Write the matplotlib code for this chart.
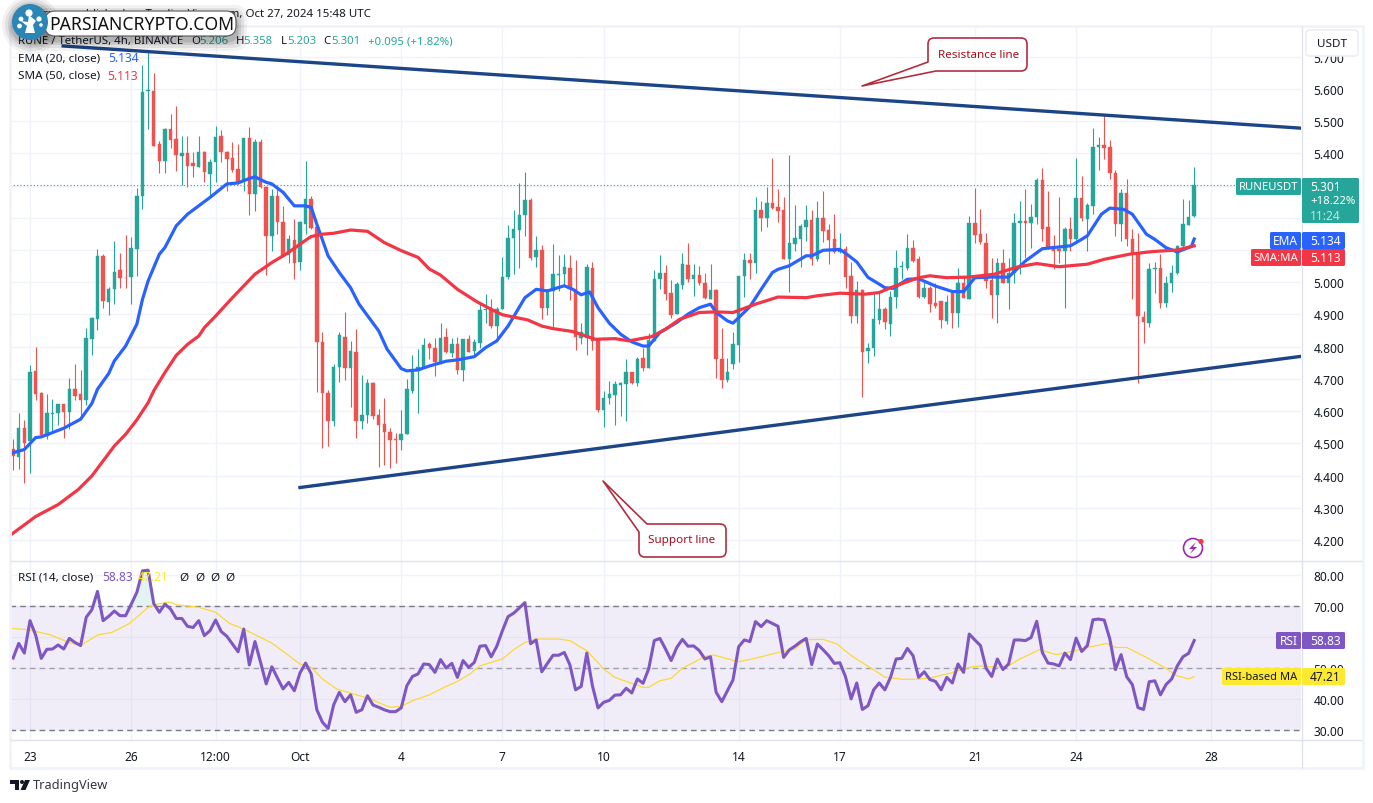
import numpy as np
import matplotlib
matplotlib.use("Agg")
import matplotlib.pyplot as plt
from matplotlib.patches import Circle, Polygon, PathPatch, FancyBboxPatch
from matplotlib.path import Path

plt.rcParams['font.family'] = ['Noto Sans', 'DejaVu Sans']

# candles 4h, first candle is index -3 (index 0 = 23 Sep 00:00)
first_idx = -3
opens = [
    4.481,4.458,4.549,4.507,4.724,4.655,4.523,4.591,4.593,4.621,
    4.597,4.670,4.652,4.635,4.825,4.887,5.080,4.939,4.978,5.037,
    5.014,5.017,5.103,5.266,5.593,5.593,5.429,5.375,5.475,5.444,
    5.393,5.401,5.370,5.356,5.405,5.336,5.372,5.453,5.405,5.385,
    5.351,5.315,5.447,5.274,5.434,5.294,5.144,5.266,5.186,5.084,
    5.132,5.063,5.180,5.258,5.170,4.816,4.657,4.569,4.738,4.831,
    4.733,4.785,4.569,4.588,4.688,4.587,4.559,4.535,4.512,4.509,
    4.528,4.661,4.725,4.738,4.807,4.797,4.753,4.830,4.780,4.807,
    4.728,4.825,4.787,4.811,4.913,4.918,4.864,4.916,5.015,5.136,
    5.163,5.209,5.255,5.079,5.099,4.919,4.973,5.022,5.025,5.043,
    4.980,4.826,4.828,5.043,4.823,4.603,4.640,4.649,4.681,4.683,
    4.720,4.686,4.766,4.733,4.818,5.009,5.028,4.968,4.901,4.991,
    5.053,5.011,5.022,4.999,4.947,4.975,4.763,4.697,4.745,4.805,
    5.018,5.068,5.059,5.224,5.199,5.247,5.232,5.224,5.071,5.118,
    5.134,5.170,5.192,5.071,5.198,5.161,5.134,5.095,5.102,5.018,
    4.895,4.975,4.787,4.795,4.883,4.918,4.869,4.954,5.048,5.043,
    5.107,5.071,4.954,4.983,4.935,4.942,4.880,4.966,4.906,4.999,
    4.949,5.185,5.149,5.123,5.007,4.959,5.061,4.997,5.028,5.185,
    5.191,5.183,5.203,5.318,5.170,5.111,5.104,5.097,5.166,5.133,
    5.261,5.195,5.237,5.420,5.425,5.420,5.340,5.180,5.276,5.135,
    5.092,4.893,4.875,5.040,5.045,4.935,4.999,5.028,5.111,5.178,5.206]
closes = [
    4.461,4.547,4.500,4.720,4.652,4.525,4.593,4.593,4.621,4.598,
    4.668,4.647,4.635,4.826,4.888,5.080,4.942,4.980,5.033,5.012,
    5.012,5.105,5.268,5.589,5.596,5.424,5.376,5.475,5.442,5.396,
    5.400,5.361,5.361,5.403,5.341,5.372,5.450,5.403,5.382,5.349,
    5.312,5.447,5.274,5.434,5.294,5.144,5.266,5.188,5.082,5.134,
    5.061,5.186,5.258,5.167,4.815,4.657,4.569,4.738,4.835,4.733,
    4.787,4.569,4.589,4.688,4.585,4.557,4.535,4.509,4.509,4.528,
    4.668,4.725,4.738,4.804,4.795,4.753,4.828,4.782,4.807,4.728,
    4.825,4.784,4.813,4.913,4.916,4.864,4.918,5.015,5.136,5.165,
    5.208,5.255,5.075,5.099,4.919,4.970,5.025,5.025,5.046,4.978,
    4.830,4.847,5.048,4.818,4.603,4.640,4.652,4.683,4.686,4.720,
    4.686,4.763,4.733,4.820,5.011,5.028,4.963,4.899,4.994,5.056,
    5.011,5.022,4.997,4.952,4.975,4.761,4.697,4.720,4.807,5.018,
    5.068,5.059,5.224,5.199,5.247,5.230,5.221,5.071,5.121,5.136,
    5.175,5.192,5.071,5.198,5.159,5.131,5.095,5.100,5.017,4.895,
    4.975,4.784,4.797,4.885,4.918,4.877,4.955,5.045,5.051,5.107,
    5.066,4.954,4.983,4.931,4.926,4.883,4.939,4.906,4.997,4.952,
    5.185,5.146,5.125,5.004,4.959,5.061,4.999,5.030,5.185,5.189,
    5.183,5.203,5.318,5.164,5.107,5.097,5.097,5.164,5.133,5.261,
    5.199,5.239,5.421,5.425,5.415,5.338,5.180,5.276,5.133,5.090,
    4.895,4.877,5.042,5.045,4.935,4.999,5.030,5.113,5.180,5.201,5.301]
highs = [
    4.515,4.593,4.572,4.742,4.798,4.658,4.652,4.637,4.621,4.623,
    4.704,4.747,4.727,4.859,4.893,5.103,5.087,4.985,5.129,5.092,
    5.146,5.139,5.292,5.674,5.717,5.649,5.439,5.477,5.522,5.546,
    5.453,5.453,5.403,5.453,5.408,5.382,5.484,5.473,5.408,5.436,
    5.429,5.447,5.481,5.444,5.444,5.299,5.289,5.289,5.235,5.146,
    5.196,5.190,5.375,5.268,5.172,4.844,4.665,4.745,4.847,4.909,
    4.818,4.854,4.713,4.701,4.691,4.608,4.640,4.547,4.531,4.603,
    4.699,4.773,4.792,4.828,4.813,4.826,4.875,4.859,4.828,4.831,
    4.825,4.835,4.825,4.937,4.965,4.947,4.923,5.079,5.177,5.224,
    5.307,5.341,5.260,5.142,5.115,4.980,5.120,5.085,5.087,5.084,
    5.068,4.873,5.056,5.064,4.823,4.661,4.692,4.692,4.689,4.763,
    4.722,4.769,4.797,4.841,5.038,5.084,5.053,5.006,5.002,5.090,
    5.121,5.056,5.051,5.028,5.056,4.980,4.857,4.766,4.847,5.020,
    5.090,5.090,5.265,5.253,5.297,5.384,5.289,5.263,5.394,5.239,
    5.180,5.239,5.224,5.253,5.282,5.180,5.213,5.154,5.113,5.064,
    5.004,4.978,4.811,4.968,4.973,4.924,4.973,5.099,5.066,5.149,
    5.130,5.080,5.004,4.988,4.999,4.942,4.959,4.973,5.045,5.020,
    5.204,5.292,5.227,5.154,5.074,5.074,5.104,5.074,5.216,5.252,
    5.289,5.242,5.323,5.354,5.282,5.146,5.263,5.170,5.201,5.384,
    5.330,5.247,5.477,5.452,5.518,5.441,5.348,5.289,5.320,5.164,
    5.154,4.911,5.061,5.063,5.087,5.020,5.053,5.115,5.258,5.254,5.358]
lows = [
    4.417,4.419,4.376,4.407,4.635,4.523,4.512,4.538,4.556,4.516,
    4.544,4.635,4.580,4.619,4.774,4.852,4.920,4.899,4.932,4.981,
    4.981,4.932,5.020,5.227,5.475,5.423,5.339,5.339,5.418,5.345,
    5.301,5.297,5.328,5.356,5.312,5.266,5.310,5.372,5.284,5.341,
    5.305,5.284,5.208,5.222,5.291,5.023,5.098,5.150,5.077,5.061,
    5.009,5.038,5.149,5.165,4.660,4.485,4.492,4.554,4.690,4.697,
    4.613,4.516,4.544,4.562,4.575,4.426,4.432,4.424,4.440,4.478,
    4.528,4.655,4.595,4.735,4.763,4.709,4.745,4.780,4.769,4.714,
    4.694,4.782,4.773,4.797,4.873,4.857,4.828,4.916,5.011,5.025,
    5.043,5.144,5.069,5.046,4.885,4.899,4.862,4.973,4.989,4.945,
    4.790,4.808,4.774,4.790,4.597,4.552,4.621,4.556,4.585,4.569,
    4.684,4.678,4.725,4.733,4.818,4.978,4.945,4.890,4.901,4.978,
    5.001,4.958,4.991,4.947,4.947,4.702,4.671,4.689,4.730,4.753,
    4.955,5.009,5.028,5.159,5.172,5.228,5.187,5.071,4.970,5.097,
    5.046,5.128,5.054,5.066,5.125,5.058,5.092,5.092,4.981,4.873,
    4.873,4.644,4.749,4.771,4.869,4.854,4.833,4.919,5.009,5.038,
    5.063,4.952,4.950,4.908,4.921,4.857,4.870,4.859,4.862,4.952,
    4.947,5.123,5.118,4.981,4.890,4.875,4.997,4.916,4.999,5.025,
    5.076,5.105,5.180,5.128,5.102,5.040,5.061,4.919,5.097,5.128,
    5.190,5.097,5.211,5.349,5.382,5.320,5.144,5.128,5.111,4.947,
    4.688,4.810,4.861,4.966,4.919,4.923,4.970,5.025,5.107,5.178,5.203]

# EMA 20 read at some candles
ema_idx = [-3,-1,1,2,6,9,11,12,14,15,17,19,20,21,23,24,26,28,32,35,37,39,40,42,43,45,47,49,50,51,
           53,55,57,58.5,62,63.5,66,67,69,71,74,76,79,81,83,85,88,90,92,95,96.5,98,99.5,101,103,105,
           107,109,110,112,115,117,119,121,122,124,125,126,128,130,132,133,135,138,139,141,144,145,
           147,149,151,152,153.5,156,158,161,164,166,168,171,174,177,180,185,186.5,188,190.5,192,
           194.5,196,198.5,200,202,204,206.5,207]
ema_val = [4.471,4.481,4.518,4.520,4.547,4.575,4.624,4.668,4.717,4.756,4.802,4.870,4.947,5.004,5.087,
           5.108,5.175,5.211,5.263,5.305,5.308,5.322,5.327,5.310,5.305,5.279,5.237,5.237,5.232,5.180,
           5.082,5.030,4.983,4.932,4.849,4.792,4.732,4.725,4.728,4.740,4.755,4.759,4.769,4.797,4.818,
           4.864,4.952,4.978,4.973,4.989,4.978,4.961,4.970,4.921,4.873,4.839,4.815,4.802,4.802,4.844,
           4.875,4.901,4.921,4.932,4.906,4.880,4.873,4.890,4.924,4.978,5.030,5.040,5.051,5.082,5.082,
           5.099,5.102,5.090,5.063,5.015,4.994,4.983,4.981,5.009,5.011,4.988,4.971,4.971,5.014,5.016,
           5.016,5.066,5.104,5.113,5.128,5.144,5.211,5.230,5.226,5.211,5.149,5.133,5.107,5.094,5.111,5.134]

# SMA 50
sma_idx = [-3.5,1,5,8.6,11,15,17,19,21,22,24,26,28,30,31,33,36,40,43,45.5,48,50,52,54,57,60,63,66,69,
           71,73,76,79.5,82,84,88.5,91,93,96.5,100.5,104,106.5,110.5,113,115.5,119,122,125,129,133,
           138,140,144,148.5,151,153,158,160,163,167,171.5,175.5,179,183,188,191,195.5,199.5,204,207]
sma_val = [4.215,4.273,4.310,4.357,4.399,4.492,4.528,4.573,4.626,4.663,4.720,4.773,4.807,4.833,4.859,
           4.895,4.952,5.025,5.061,5.087,5.118,5.142,5.149,5.152,5.162,5.158,5.123,5.098,5.077,
           5.041,5.022,4.978,4.939,4.916,4.899,4.883,4.864,4.856,4.847,4.823,4.825,4.818,4.831,4.854,
           4.885,4.906,4.908,4.906,4.932,4.954,4.952,4.958,4.966,4.963,4.968,4.983,5.014,5.020,5.014,
           5.016,5.025,5.047,5.058,5.048,5.056,5.071,5.087,5.095,5.100,5.113]

# RSI 14, one value per candle
rsi = [
    53.2,57.9,54.8,65.2,60.6,53.1,56.0,56.1,57.4,56.1,
    59.5,58.2,57.2,66.3,68.7,74.6,65.2,66.6,68.3,66.8,
    66.8,70.5,74.3,81.2,81.4,70.7,67.9,70.5,68.9,65.9,
    65.9,63.4,63.0,65.2,60.4,62.0,65.4,61.7,60.2,57.7,
    55.2,62.5,51.0,58.5,51.8,44.9,50.4,46.8,43.3,45.4,
    42.7,48.4,51.6,48.1,36.6,32.6,30.6,38.2,42.2,39.2,
    41.4,35.8,36.6,41.1,38.1,37.4,36.6,36.0,36.0,37.2,
    44.3,47.3,48.1,51.3,51.1,48.6,52.7,50.0,51.5,47.0,
    52.4,50.2,51.8,57.0,57.2,53.6,57.0,62.0,66.5,67.6,
    69.3,71.0,57.8,59.0,48.8,51.5,54.1,54.1,55.0,51.0,
    43.0,44.1,54.8,44.3,37.2,39.0,39.6,41.3,41.4,43.5,
    42.0,46.5,45.1,49.7,58.8,59.5,56.1,52.4,56.6,59.2,
    57.0,57.1,55.6,52.9,53.6,42.2,39.2,42.7,46.2,56.8,
    59.0,58.5,64.9,63.3,65.2,64.3,63.4,53.4,55.8,57.0,
    58.4,59.5,51.1,57.7,55.9,54.0,51.5,51.7,47.2,40.1,
    45.2,36.7,37.9,43.0,45.2,43.0,47.0,52.9,53.1,56.3,
    54.0,47.0,48.8,46.3,45.7,43.0,47.0,45.2,51.3,48.6,
    60.9,59.0,57.2,49.9,47.3,52.9,49.5,51.3,59.0,59.0,
    58.8,59.8,65.0,55.0,51.6,51.3,50.7,54.8,52.7,59.6,
    55.3,57.2,65.5,65.7,65.4,59.3,49.5,54.3,47.2,44.7,
    37.3,36.7,45.6,45.9,41.4,44.7,46.5,50.7,53.6,54.7,58.83]

# RSI based MA
rsi_ma_idx = [-3,0,3.5,7,9,12,14.5,17.5,19,21,23,25,26,30,33,35.5,38,40,43,46,48,50,52,54.5,57.5,60.5,
              64,66,68,71,74,76,78.2,80,84,86,88,90,94,96,98,99,102,104,106,109,110,112,114,116,120,
              121.5,126,130,133.5,136,138,141,143.5,146,149.5,152,155,158,160.5,163.5,167,169,172,174,
              176,179.5,182.5,186,188,191.5,193,195,198.5,201.5,204,206,207]
rsi_ma_val = [62.7,62.2,60.7,58.2,57.2,60.6,61.4,64.1,66.3,69.5,70.7,71.1,70.3,69.5,67.9,64.3,62.5,60.7,
              58.0,54.0,51.3,50.2,46.5,43.3,41.7,40.1,37.4,37.7,39.5,41.4,44.1,45.7,48.1,50.7,52.9,55.9,
              58.2,59.3,59.3,58.8,56.6,55.6,49.7,47.0,45.7,43.8,43.8,45.9,46.7,49.9,53.7,54.2,52.0,53.6,
              55.2,56.1,59.1,59.2,57.7,54.0,50.0,47.1,46.4,46.4,47.0,48.3,50.2,50.7,50.2,50.7,52.9,55.9,
              54.3,55.6,56.6,57.9,56.6,56.6,53.4,50.4,47.5,46.5,47.21]

# trend lines drawn on the chart (candle index, price)
resistance_idx = [5.9, 226]
resistance_val = [5.733, 5.478]
support_idx = [48, 226]
support_val = [4.363, 4.770]

last_price = 5.301
price_ticks = [4.2, 4.3, 4.4, 4.5, 4.6, 4.7, 4.8, 4.9, 5.0, 5.1, 5.2, 5.3, 5.4, 5.5, 5.6, 5.7]
hidden_price_ticks = [5.1, 5.2, 5.3]  # under the badges in the reference
rsi_ticks = [30, 40, 50, 60, 70, 80]
time_ticks = [0, 18, 33, 48, 66, 84, 102, 126, 144, 168, 186, 210]
time_labels = ['23', '26', '12:00', 'Oct', '4', '7', '10', '14', '17', '21', '24', '28']

W, H = 1373, 804
GREEN = '#26a69a'
RED = '#ef5350'
BLUE = '#2962ff'
MA_RED = '#f23645'
PURPLE = '#7e57c2'
YELLOW = '#fde92f'
GRID = '#f0f3fa'
BORDER = '#e0e3eb'
TEXT = '#131722'
NAVY = '#1c4587'
NOTE = '#a8182a'


def pane(x0, y0, x1, y1):
    # axes placed with pixel coordinates, y going down
    return fig.add_axes([x0 / W, 1 - y1 / H, (x1 - x0) / W, (y1 - y0) / H])


fig = plt.figure(figsize=(W / 100, H / 100), dpi=100, facecolor='white')

# ---- price pane ----
ax = pane(10, 27, 1301, 562)
ax.set_xlim(-3.556, 225.99)
ax.set_ylim(4.135, 5.795)
x = np.arange(len(opens)) + first_idx
o, c, h, l = map(np.array, (opens, closes, highs, lows))
col = np.where(c >= o, GREEN, RED)
ax.vlines(x, l, h, colors=col, linewidth=0.8, zorder=3)
ax.bar(x, np.abs(c - o), bottom=np.minimum(o, c), width=0.62, color=col, edgecolor=col, linewidth=0.3, zorder=3)
ax.axhline(last_price, color=GREEN, linestyle=(0, (1, 2)), linewidth=0.8, zorder=2)
ax.plot(ema_idx, ema_val, color=BLUE, linewidth=2.3, zorder=4, solid_joinstyle='round')
ax.plot(sma_idx, sma_val, color=MA_RED, linewidth=2.3, zorder=4, solid_joinstyle='round')
ax.plot(resistance_idx, resistance_val, color=NAVY, linewidth=2.4, zorder=5)
ax.plot(support_idx, support_val, color=NAVY, linewidth=2.4, zorder=5)
ax.set_yticks(price_ticks)
ax.set_yticklabels(['' if v in hidden_price_ticks else '%.3f' % v for v in price_ticks])
ax.set_xticks(time_ticks)
ax.tick_params(axis='x', length=0, labelbottom=False)
ax.yaxis.tick_right()
ax.tick_params(axis='y', length=0, pad=9, labelsize=8.6, labelcolor=TEXT)
ax.grid(True, color=GRID, linewidth=1)
ax.set_axisbelow(True)
for s in ax.spines.values():
    s.set_visible(False)

# ---- RSI pane ----
ax2 = pane(10, 562, 1301, 741)
ax2.set_xlim(-3.556, 225.99)
ax2.set_ylim(26.9, 84.35)
ax2.axhspan(30, 70, color=PURPLE, alpha=0.1, linewidth=0, zorder=1)
for lev, lc in ((70, '#787b86'), (50, '#a0a3ad'), (30, '#787b86')):
    ax2.axhline(lev, color=lc, linestyle=(0, (4, 3)), linewidth=1, zorder=2)
r = np.array(rsi)
ax2.fill_between(x, 70, r, where=r >= 70, interpolate=True, color=GREEN, alpha=0.13, linewidth=0, zorder=2)
ax2.plot(rsi_ma_idx, rsi_ma_val, color='#fdd835', linewidth=0.9, zorder=3)
ax2.plot(x, rsi, color=PURPLE, linewidth=2.2, zorder=4, solid_joinstyle='round')
ax2.set_yticks(rsi_ticks)
ax2.set_yticklabels(['' if v == 60 else '%.2f' % v for v in rsi_ticks])
ax2.set_xticks(time_ticks)
ax2.set_xticklabels(time_labels)
ax2.yaxis.tick_right()
ax2.tick_params(axis='y', length=0, pad=9, labelsize=8.6, labelcolor=TEXT)
ax2.tick_params(axis='x', length=0, pad=7, labelsize=8.6, labelcolor=TEXT)
ax2.grid(True, color=GRID, linewidth=1)
ax2.set_axisbelow(True)
for s in ax2.spines.values():
    s.set_visible(False)

# ---- overlay in pixel coordinates: frame, labels, badges, logo ----
top = fig.add_axes([0, 0, 1, 1], facecolor='none')
top.set_xlim(0, W)
top.set_ylim(H, 0)
top.axis('off')


def hline(y, x0, x1, color=BORDER, lw=1.0):
    top.plot([x0, x1], [y, y], color=color, linewidth=lw, solid_capstyle='butt')


def vline(x_, y0, y1, color=BORDER, lw=1.0):
    top.plot([x_, x_], [y0, y1], color=color, linewidth=lw, solid_capstyle='butt')


hline(26.5, 10, 1363, '#f0f3fa', 2)
hline(769, 10, 1363, '#f0f3fa', 2)
vline(10, 26, 770, '#f0f3fa', 2)
vline(1362.5, 26, 770, '#f0f3fa', 2)
hline(562, 10, 1362)
hline(741, 10, 1362)
vline(1301.5, 27, 769)


def txt(x_, y_, s, color=TEXT, size=8.2, ha='left', **kw):
    top.text(x_, y_, s, color=color, fontsize=size, ha=ha, va='center', **kw)


# legend rows
txt(371, 14.5, 'rune published on TradingView.com, Oct 27, 2024 15:48 UTC', ha='right', size=8.3)
txt(18, 41.5, 'RUNE / TetherUS, 4h, BINANCE')
for lx, vx, lab, val in ((191, 199, 'O', '5.206'), (236, 243, 'H', '5.358'), (281, 287, 'L', '5.203'), (323, 331, 'C', '5.301')):
    txt(lx, 41.5, lab)
    txt(vx, 41.5, val, GREEN)
txt(368, 41.5, '+0.095 (+1.82%)', GREEN)
txt(18, 59, 'EMA (20, close)', size=8.4)
txt(108, 59, '5.134', BLUE, size=8.6)
txt(18, 76, 'SMA (50, close)', size=8.4)
txt(107, 76, '5.113', MA_RED, size=8.6)
txt(18, 578, 'RSI (14, close)', size=8.4)
txt(102, 578, '58.83', PURPLE, size=8.6)
txt(138, 578, '47.21', YELLOW, size=8.6)
for sx in (179, 195, 210, 225):
    txt(sx, 578, 'Ø', size=8.4)


def badge(x0, y0, x1, y1, color):
    top.add_patch(FancyBboxPatch((x0 + 1, y0 + 1), x1 - x0 - 2, y1 - y0 - 2, boxstyle='round,pad=1,rounding_size=1.5',
                                 facecolor=color, edgecolor='none', zorder=6))


badge(1236, 179, 1301, 196, GREEN)
badge(1302, 179, 1359, 224, GREEN)
txt(1268.5, 187.5, 'RUNEUSDT', 'white', ha='center', zorder=7)
txt(1310, 187.5, '5.301', 'white', size=8.6, zorder=7)
txt(1310, 202, '+18.22%', 'white', zorder=7)
txt(1310, 216, '11:24', '#bfe6e2', size=8.6, zorder=7)
badge(1270, 233, 1301, 250, BLUE)
badge(1302, 233, 1345, 250, BLUE)
txt(1285.5, 241.5, 'EMA', 'white', size=8.6, ha='center', zorder=7)
txt(1310, 241.5, '5.134', 'white', size=8.6, zorder=7)
badge(1251, 250, 1301, 267, MA_RED)
badge(1302, 250, 1345, 267, MA_RED)
txt(1276, 258.5, 'SMA:MA', 'white', ha='center', zorder=7)
txt(1310, 258.5, '5.113', 'white', size=8.6, zorder=7)
badge(1276, 633, 1301, 650, PURPLE)
badge(1302, 633, 1345, 650, PURPLE)
txt(1288.5, 641.5, 'RSI', 'white', size=8.6, ha='center', zorder=7)
txt(1310, 641.5, '58.83', 'white', size=8.6, zorder=7)
badge(1222, 669, 1301, 686, YELLOW)
badge(1302, 669, 1345, 686, YELLOW)
txt(1261.5, 677.5, 'RSI-based MA', TEXT, size=8.0, ha='center', zorder=7)
txt(1310, 677.5, '47.21', TEXT, size=8.6, zorder=7)

# USDT button covers the 5.700 label
top.add_patch(FancyBboxPatch((1308, 33), 48, 22, boxstyle='round,pad=2,rounding_size=4', facecolor='white',
                             edgecolor='#eceef3', linewidth=1.2, zorder=6))
txt(1332, 44.5, 'USDT', size=8.4, ha='center', zorder=7)


def rounded_shape(points, r=6):
    # closed outline, points flagged True get a rounded corner
    verts, codes = [], []
    n = len(points)
    for i, (px, py, rnd) in enumerate(points):
        if not rnd:
            verts.append((px, py))
            codes.append(Path.LINETO)
            continue
        ax_, ay_, _ = points[i - 1]
        bx_, by_, _ = points[(i + 1) % n]
        d1 = np.hypot(ax_ - px, ay_ - py)
        d2 = np.hypot(bx_ - px, by_ - py)
        verts.append((px + (ax_ - px) * r / d1, py + (ay_ - py) * r / d1))
        codes.append(Path.LINETO)
        verts.append((px, py))
        codes.append(Path.CURVE3)
        verts.append((px + (bx_ - px) * r / d2, py + (by_ - py) * r / d2))
        codes.append(Path.CURVE3)
    codes[0] = Path.MOVETO
    verts.append(verts[0])
    codes.append(Path.CLOSEPOLY)
    return Path(verts, codes)


res_shape = [(928, 39, True), (1027, 39, True), (1027, 72, True), (936, 72, False), (862, 87, False), (928, 63, False)]
sup_shape = [(647, 525, False), (726, 525, True), (726, 558, True), (639, 558, True), (639, 533, False), (603, 482, False)]
for shape in (res_shape, sup_shape):
    top.add_patch(PathPatch(rounded_shape(shape), facecolor='white', edgecolor=NOTE, linewidth=1.2, joinstyle='round', alpha=0.9, zorder=6))
txt(979, 55, 'Resistance line', '#a50e1e', size=8.4, ha='center', zorder=7)
txt(682, 541, 'Support line', '#a50e1e', size=8.4, ha='center', zorder=7)

# little bolt icon
top.add_patch(Circle((1193, 549), 9.5, facecolor='white', edgecolor='#9c27b0', linewidth=1.2, zorder=6))
top.add_patch(Polygon([(1196, 543), (1189, 550), (1193, 550), (1190, 555), (1197, 548), (1193, 548)], facecolor='#9c27b0', edgecolor='none', zorder=7))
top.add_patch(Circle((1201, 542.5), 2.6, facecolor=MA_RED, edgecolor='none', zorder=7))

# PARSIANCRYPTO logo with soft shadow
for grow, al in ((11, 0.05), (8, 0.07), (5, 0.09), (2.5, 0.12)):
    top.add_patch(FancyBboxPatch((44, 17), 192, 24, boxstyle='round,pad=%g,rounding_size=12' % grow, facecolor='black',
                                 edgecolor='none', alpha=al, zorder=8))
    top.add_patch(Circle((31, 26), 18 + grow, facecolor='black', edgecolor='none', alpha=al, zorder=8))
top.add_patch(FancyBboxPatch((45, 12), 191, 25, boxstyle='round,pad=0,rounding_size=10', facecolor='white', edgecolor='#555555',
                             linewidth=0.8, zorder=9))
txt(49, 25, 'PARSIANCRYPTO.COM', '#111111', size=12.7, weight='bold', zorder=10)
top.add_patch(Circle((30, 23), 18, facecolor='#2b86b7', edgecolor='none', zorder=10))
for cx, cy, cr in ((29, 14, 3.6), (21, 20, 2.4), (39, 20, 2.6), (19.5, 27, 2.4), (41, 26, 1.8)):
    top.add_patch(Circle((cx, cy), cr, facecolor='white', edgecolor='none', zorder=11))
top.add_patch(Polygon([(29, 16), (36, 22), (33, 26), (35, 34), (25, 34), (27, 27), (21, 22), (28, 23)], facecolor='white', edgecolor='none', zorder=11))

# TradingView mark
top.add_patch(Polygon([(10, 781), (19, 781), (19, 791), (15, 791), (15, 785), (10, 785)], facecolor='#131722', edgecolor='none'))
top.add_patch(Circle((22, 783), 2, facecolor='#131722', edgecolor='none'))
top.add_patch(Polygon([(25, 781), (30, 781), (25.5, 791), (20.5, 791)], facecolor='#131722', edgecolor='none'))
txt(33, 786, 'TradingView', '#333640', size=9.2)

fig.savefig('out.png', dpi=100, facecolor='white')
